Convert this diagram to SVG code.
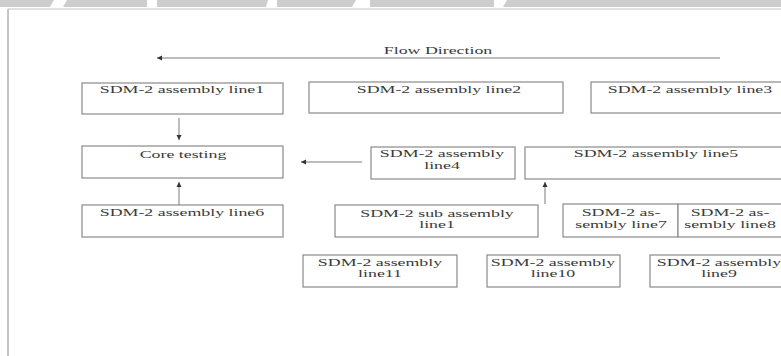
<svg xmlns="http://www.w3.org/2000/svg" width="781" height="356" viewBox="0 0 781 356">
<style>
.bg{fill:#ffffff}
.band{fill:#cdcdcd}
.frame{stroke:#c4c4c4;fill:none}
.box{fill:#ffffff;stroke:#8a8a8a;stroke-width:1.2}
.t{font-family:"Liberation Serif","Times New Roman",serif;font-size:10.5px;fill:#3a3a3a;text-anchor:middle}
.c{stroke:#7a7a7a;stroke-width:1;fill:none;marker-end:url(#ah)}
</style>
<defs>
<marker id="ah" markerUnits="userSpaceOnUse" markerWidth="6" markerHeight="6" refX="5" refY="3" orient="auto">
<path d="M0,0.5 L5,3 L0,5.5 z" fill="#333333"/>
</marker>
</defs>
<rect class="bg" x="0" y="0" width="781" height="356"/>
<g id="topband">
<polygon class="band" points="0,0 54,0 50,7 0,7"/>
<polygon class="band" points="67,0 147,0 147,7 63,7"/>
<polygon class="band" points="157,0 268,0 266,7 157,7"/>
<polygon class="band" points="277,0 356,0 352,7 277,7"/>
<polygon class="band" points="370,0 494,0 494,7 370,7"/>
<polygon class="band" points="507,0 781,0 781,7 503,7"/>
</g>
<g id="frame">
<line class="frame" x1="8" y1="9" x2="781" y2="9" stroke-width="1"/>
<line class="frame" x1="8" y1="9" x2="8" y2="356" stroke-width="2"/>
</g>
<g id="flow-direction">
<text class="t" transform="translate(438,54) scale(1.7,1)">Flow Direction</text>
</g>
<g id="connectors">
<line class="c" x1="720" y1="58" x2="157" y2="58"/>
<line class="c" x1="179" y1="118" x2="179" y2="140"/>
<line class="c" x1="362" y1="162" x2="301" y2="162"/>
<line class="c" x1="179" y1="205" x2="179" y2="182"/>
<line class="c" x1="545" y1="204" x2="545" y2="182"/>
</g>
<g id="line1">
<rect class="box" x="82" y="83" width="201" height="31"/>
<text class="t" transform="translate(182,93) scale(1.7,1)">SDM-2 assembly line1</text>
</g>
<g id="line2">
<rect class="box" x="309" y="82" width="254" height="31"/>
<text class="t" transform="translate(439,93) scale(1.7,1)">SDM-2 assembly line2</text>
</g>
<g id="line3">
<rect class="box" x="591" y="82" width="220" height="31"/>
<text class="t" transform="translate(690,93) scale(1.7,1)">SDM-2 assembly line3</text>
</g>
<g id="core-testing">
<rect class="box" x="82" y="146" width="201" height="32"/>
<text class="t" transform="translate(183,158) scale(1.7,1)">Core testing</text>
</g>
<g id="line4">
<rect class="box" x="371" y="147" width="144" height="32"/>
<text class="t" transform="translate(442,157) scale(1.7,1)">SDM-2 assembly</text>
<text class="t" transform="translate(442,169) scale(1.7,1)">line4</text>
</g>
<g id="line5">
<rect class="box" x="525" y="147" width="286" height="32"/>
<text class="t" transform="translate(656,157) scale(1.7,1)">SDM-2 assembly line5</text>
</g>
<g id="line6">
<rect class="box" x="82" y="205" width="201" height="32"/>
<text class="t" transform="translate(182,216) scale(1.7,1)">SDM-2 assembly line6</text>
</g>
<g id="sub-line1">
<rect class="box" x="335" y="205" width="203" height="32"/>
<text class="t" transform="translate(437,217) scale(1.7,1)">SDM-2 sub assembly</text>
<text class="t" transform="translate(437,228) scale(1.7,1)">line1</text>
</g>
<g id="line7">
<rect class="box" x="563" y="204" width="115" height="33"/>
<text class="t" transform="translate(621,216) scale(1.7,1)">SDM-2 as-</text>
<text class="t" transform="translate(621,228) scale(1.7,1)">sembly line7</text>
</g>
<g id="line8">
<rect class="box" x="678" y="204" width="133" height="33"/>
<text class="t" transform="translate(730,216) scale(1.7,1)">SDM-2 as-</text>
<text class="t" transform="translate(730,228) scale(1.7,1)">sembly line8</text>
</g>
<g id="line11">
<rect class="box" x="303" y="255" width="154" height="32"/>
<text class="t" transform="translate(380,266) scale(1.7,1)">SDM-2 assembly</text>
<text class="t" transform="translate(380,277) scale(1.7,1)">line11</text>
</g>
<g id="line10">
<rect class="box" x="487" y="255" width="133" height="32"/>
<text class="t" transform="translate(553,266) scale(1.7,1)">SDM-2 assembly</text>
<text class="t" transform="translate(553,277) scale(1.7,1)">line10</text>
</g>
<g id="line9">
<rect class="box" x="650" y="255" width="161" height="32"/>
<text class="t" transform="translate(719,266) scale(1.7,1)">SDM-2 assembly</text>
<text class="t" transform="translate(719,277) scale(1.7,1)">line9</text>
</g>
</svg>
